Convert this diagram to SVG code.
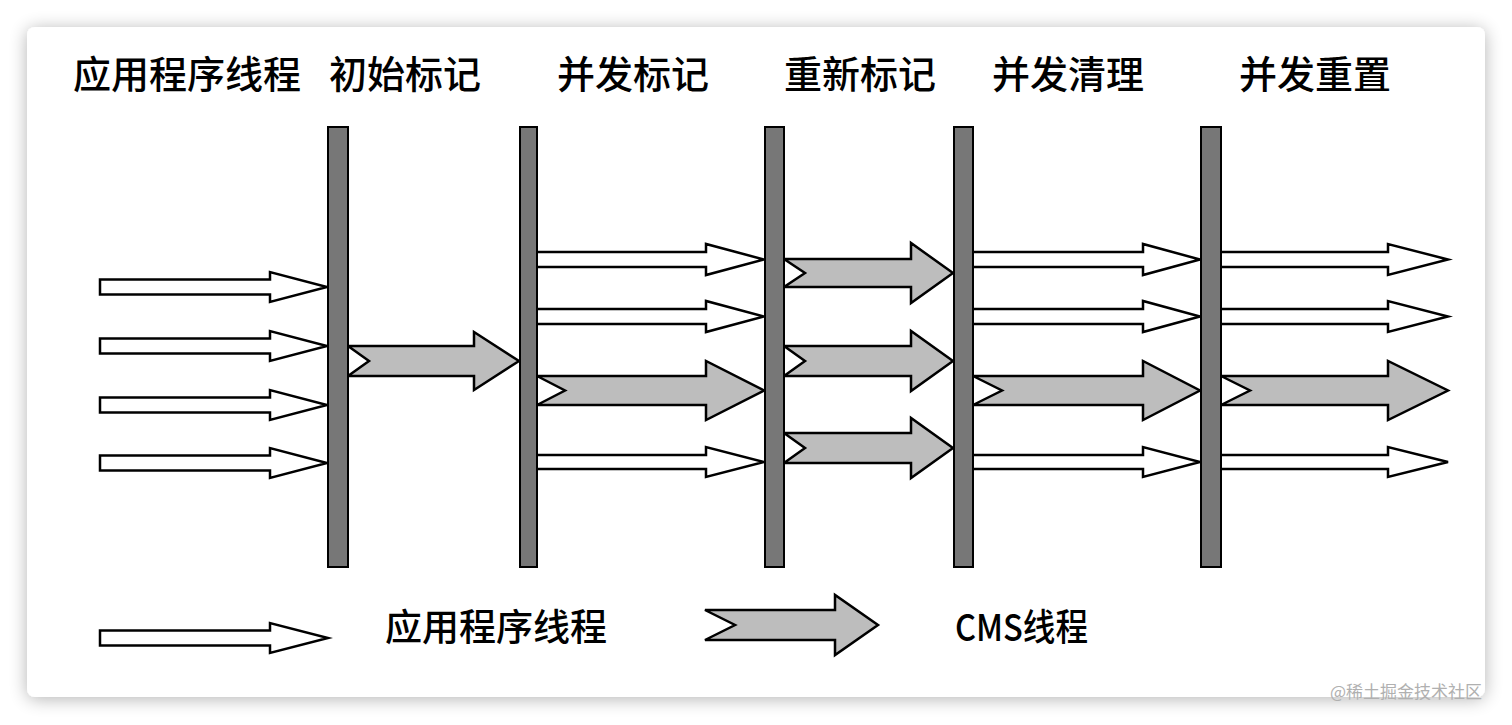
<svg xmlns="http://www.w3.org/2000/svg" width="1512" height="725" viewBox="0 0 1512 725">
<defs>
<filter id="shadow" x="-5%" y="-5%" width="110%" height="115%">
<feGaussianBlur in="SourceAlpha" stdDeviation="9"/>
<feOffset dx="0" dy="2" result="b"/>
<feComponentTransfer><feFuncA type="linear" slope="0.3"/></feComponentTransfer>
<feMerge><feMergeNode/><feMergeNode in="SourceGraphic"/></feMerge>
</filter>
</defs>
<style>
.hdr{font-family:"Noto Sans CJK SC","Noto Sans",sans-serif;font-size:38px;font-weight:500;fill:#000}
.lg{font-family:"Noto Sans CJK SC","Noto Sans",sans-serif;font-size:37px;font-weight:500;fill:#000}
.app{fill:#fff;stroke:#000;stroke-width:2.5;stroke-linejoin:miter}
.cms{fill:#bdbdbd;stroke:#000;stroke-width:2.5;stroke-linejoin:miter}
.bar{fill:#777;stroke:#000;stroke-width:2}
.wm{font-family:"Noto Sans CJK SC",sans-serif;font-size:17px;fill:#b0b0b0}
</style>
<rect x="0" y="0" width="1512" height="725" fill="#fff"/>
<rect x="27" y="27" width="1458" height="670" rx="8" fill="#fff" filter="url(#shadow)"/>

<g id="headers">
<text class="hdr" x="73" y="88">应用程序线程</text>
<text class="hdr" x="329" y="88">初始标记</text>
<text class="hdr" x="557" y="88">并发标记</text>
<text class="hdr" x="784" y="88">重新标记</text>
<text class="hdr" x="992" y="88">并发清理</text>
<text class="hdr" x="1239" y="88">并发重置</text>
</g>

<g id="connectors">
<!-- application threads before initial mark -->
<path class="app" d="M100,279.5 L270,279.5 L270,272 L327,287 L270,302 L270,294.5 L100,294.5 Z"/>
<path class="app" d="M100,338.5 L270,338.5 L270,331 L327,346 L270,361 L270,353.5 L100,353.5 Z"/>
<path class="app" d="M100,397.5 L270,397.5 L270,390 L327,405 L270,420 L270,412.5 L100,412.5 Z"/>
<path class="app" d="M100,455.5 L270,455.5 L270,448 L327,463 L270,478 L270,470.5 L100,470.5 Z"/>
<!-- CMS initial mark -->
<path class="cms" d="M348,346 L474,346 L474,332 L519,361 L474,390 L474,376 L348,376 L369,361 Z"/>
<!-- concurrent mark -->
<path class="app" d="M530,252 L706,252 L706,244 L764,259.5 L706,275 L706,267 L530,267 Z"/>
<path class="app" d="M530,309 L706,309 L706,301 L764,316.5 L706,332 L706,324 L530,324 Z"/>
<path class="cms" d="M537,376 L706,376 L706,361 L764,390.5 L706,420 L706,405 L537,405 L565,390.5 Z"/>
<path class="app" d="M530,455 L706,455 L706,447 L764,462 L706,477 L706,469 L530,469 Z"/>
<!-- remark -->
<path class="cms" d="M784,259 L911,259 L911,243 L953,273 L911,303 L911,287 L784,287 L805,273 Z"/>
<path class="cms" d="M784,346 L911,346 L911,331 L953,361 L911,391 L911,376 L784,376 L805,361 Z"/>
<path class="cms" d="M784,433 L911,433 L911,418 L953,448 L911,478 L911,463 L784,463 L805,448 Z"/>
<!-- concurrent sweep -->
<path class="app" d="M965,252 L1143,252 L1143,244 L1200,259.5 L1143,275 L1143,267 L965,267 Z"/>
<path class="app" d="M965,309 L1143,309 L1143,301 L1200,316.5 L1143,332 L1143,324 L965,324 Z"/>
<path class="cms" d="M973,376 L1143,376 L1143,361 L1200,390.5 L1143,420 L1143,405 L973,405 L1002,390.5 Z"/>
<path class="app" d="M965,455 L1143,455 L1143,447 L1200,462 L1143,477 L1143,469 L965,469 Z"/>
<!-- concurrent reset -->
<path class="app" d="M1212,252 L1388,252 L1388,244 L1448,259.5 L1388,275 L1388,267 L1212,267 Z"/>
<path class="app" d="M1212,309 L1388,309 L1388,301 L1448,316.5 L1388,332 L1388,324 L1212,324 Z"/>
<path class="cms" d="M1221,376 L1388,376 L1388,361 L1448,390.5 L1388,420 L1388,405 L1221,405 L1250,390.5 Z"/>
<path class="app" d="M1212,455 L1388,455 L1388,447 L1448,462 L1388,477 L1388,469 L1212,469 Z"/>
</g>

<g id="bar-initial-mark"><rect class="bar" x="328" y="127" width="20" height="440"/></g>
<g id="bar-concurrent-mark"><rect class="bar" x="520" y="127" width="17" height="440"/></g>
<g id="bar-remark"><rect class="bar" x="765" y="127" width="19" height="440"/></g>
<g id="bar-concurrent-sweep"><rect class="bar" x="954" y="127" width="19" height="440"/></g>
<g id="bar-concurrent-reset"><rect class="bar" x="1201" y="127" width="20" height="440"/></g>

<g id="legend-app">
<path class="app" d="M100,630.5 L270,630.5 L270,623 L328,638 L270,653 L270,645.5 L100,645.5 Z"/>
<text class="lg" x="385" y="641">应用程序线程</text>
</g>
<g id="legend-cms">
<path class="cms" d="M705,610 L835,610 L835,595 L878,625 L835,655 L835,640 L705,640 L735,625 Z"/>
<text class="lg" x="955" y="641" textLength="133" lengthAdjust="spacingAndGlyphs">CMS线程</text>
</g>

<text class="wm" x="1330" y="698">@稀土掘金技术社区</text>
</svg>
